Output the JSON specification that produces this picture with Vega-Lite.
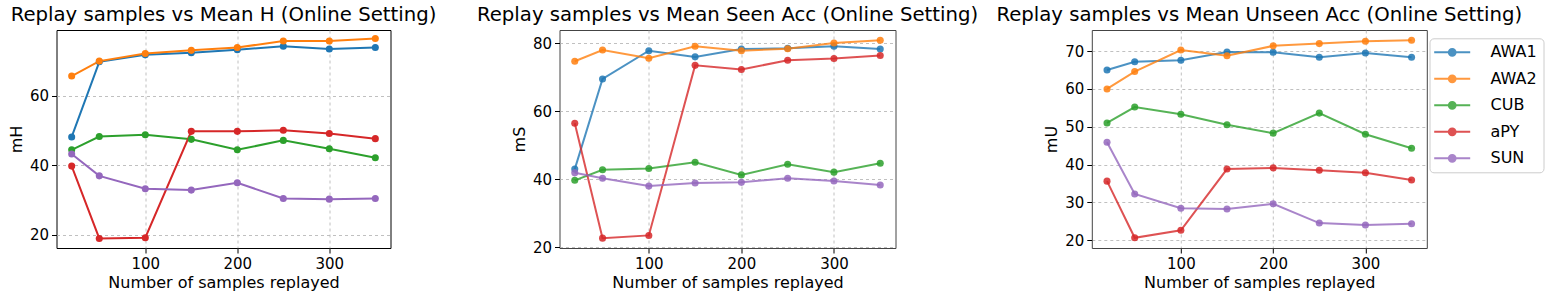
{
  "$schema": "https://vega.github.io/schema/vega-lite/v6.json",
  "padding": {"left": 7.5, "top": 4, "right": 5, "bottom": 5},
  "data": {"values": [
    {"n": 20, "dataset": "AWA1", "mH": 48.1, "mS": 43.0, "mU": 65.0},
    {"n": 20, "dataset": "AWA2", "mH": 65.6, "mS": 74.7, "mU": 60.0},
    {"n": 20, "dataset": "CUB", "mH": 44.4, "mS": 39.7, "mU": 51.0},
    {"n": 20, "dataset": "aPY", "mH": 39.7, "mS": 56.5, "mU": 35.6},
    {"n": 20, "dataset": "SUN", "mH": 43.2, "mS": 41.9, "mU": 45.9},
    {"n": 50, "dataset": "AWA1", "mH": 69.7, "mS": 69.5, "mU": 67.2},
    {"n": 50, "dataset": "AWA2", "mH": 69.9, "mS": 78.0, "mU": 64.6},
    {"n": 50, "dataset": "CUB", "mH": 48.2, "mS": 42.8, "mU": 55.2},
    {"n": 50, "dataset": "aPY", "mH": 18.9, "mS": 22.7, "mU": 20.6},
    {"n": 50, "dataset": "SUN", "mH": 36.9, "mS": 40.3, "mU": 32.2},
    {"n": 100, "dataset": "AWA1", "mH": 71.7, "mS": 77.8, "mU": 67.6},
    {"n": 100, "dataset": "AWA2", "mH": 72.1, "mS": 75.6, "mU": 70.3},
    {"n": 100, "dataset": "CUB", "mH": 48.7, "mS": 43.2, "mU": 53.3},
    {"n": 100, "dataset": "aPY", "mH": 19.1, "mS": 23.5, "mU": 22.6},
    {"n": 100, "dataset": "SUN", "mH": 33.2, "mS": 38.0, "mU": 28.4},
    {"n": 150, "dataset": "AWA1", "mH": 72.3, "mS": 76.0, "mU": 69.8},
    {"n": 150, "dataset": "AWA2", "mH": 73.0, "mS": 79.1, "mU": 68.8},
    {"n": 150, "dataset": "CUB", "mH": 47.4, "mS": 45.0, "mU": 50.5},
    {"n": 150, "dataset": "aPY", "mH": 49.7, "mS": 73.5, "mU": 38.8},
    {"n": 150, "dataset": "SUN", "mH": 32.8, "mS": 38.9, "mU": 28.2},
    {"n": 200, "dataset": "AWA1", "mH": 73.2, "mS": 78.3, "mU": 69.7},
    {"n": 200, "dataset": "AWA2", "mH": 73.8, "mS": 77.8, "mU": 71.4},
    {"n": 200, "dataset": "CUB", "mH": 44.4, "mS": 41.3, "mU": 48.3},
    {"n": 200, "dataset": "aPY", "mH": 49.7, "mS": 72.3, "mU": 39.1},
    {"n": 200, "dataset": "SUN", "mH": 34.9, "mS": 39.1, "mU": 29.6},
    {"n": 250, "dataset": "AWA1", "mH": 74.2, "mS": 78.5, "mU": 68.4},
    {"n": 250, "dataset": "AWA2", "mH": 75.7, "mS": 78.4, "mU": 72.0},
    {"n": 250, "dataset": "CUB", "mH": 47.1, "mS": 44.4, "mU": 53.6},
    {"n": 250, "dataset": "aPY", "mH": 50.0, "mS": 75.0, "mU": 38.5},
    {"n": 250, "dataset": "SUN", "mH": 30.4, "mS": 40.3, "mU": 24.5},
    {"n": 300, "dataset": "AWA1", "mH": 73.4, "mS": 79.1, "mU": 69.5},
    {"n": 300, "dataset": "AWA2", "mH": 75.7, "mS": 80.1, "mU": 72.6},
    {"n": 300, "dataset": "CUB", "mH": 44.7, "mS": 42.1, "mU": 48.0},
    {"n": 300, "dataset": "aPY", "mH": 49.1, "mS": 75.5, "mU": 37.8},
    {"n": 300, "dataset": "SUN", "mH": 30.2, "mS": 39.5, "mU": 24.0},
    {"n": 350, "dataset": "AWA1", "mH": 73.8, "mS": 78.3, "mU": 68.4},
    {"n": 350, "dataset": "AWA2", "mH": 76.4, "mS": 80.9, "mU": 72.9},
    {"n": 350, "dataset": "CUB", "mH": 42.1, "mS": 44.7, "mU": 44.3},
    {"n": 350, "dataset": "aPY", "mH": 47.6, "mS": 76.4, "mU": 35.9},
    {"n": 350, "dataset": "SUN", "mH": 30.4, "mS": 38.3, "mU": 24.3}
  ]},
  "config": {
    "font": "DejaVu Sans",
    "view": {"stroke": "#000", "strokeWidth": 1},
    "axis": {"domain": false, "grid": true, "gridColor": "#b0b0b0", "gridDash": [3, 3], "gridWidth": 0.8,
      "tickColor": "#000", "tickSize": 5, "tickWidth": 1, "labelColor": "#000", "labelFontSize": 15,
      "labelPadding": 3, "titleFontSize": 16, "titleFontWeight": "normal", "titleColor": "#000",
      "labelFont": "DejaVu Sans", "titleFont": "DejaVu Sans"},
    "axisX": {"titlePadding": 3},
    "axisY": {"titlePadding": 5},
    "title": {"fontSize": 19.7, "fontWeight": "normal", "color": "#000", "offset": 5, "font": "DejaVu Sans", "anchor": "middle", "frame": "group"}
  },
  "spacing": 169,
  "bounds": "flush",
  "resolve": {"legend": {"color": "independent"}},
  "hconcat": [
    {
      "width": 334, "height": 218,
      "title": "Replay samples vs Mean H (Online Setting)",
      "encoding": {
        "x": {"field": "n", "type": "quantitative", "scale": {"domain": [3.5, 366.5], "nice": false, "zero": false}, "axis": {"values": [100, 200, 300], "title": "Number of samples replayed"}},
        "y": {"field": "mH", "type": "quantitative", "scale": {"domain": [16.15, 78.85], "nice": false, "zero": false}, "axis": {"values": [20, 40, 60], "title": "mH"}},
        "color": {"field": "dataset", "type": "nominal", "scale": {"domain": ["AWA1", "AWA2", "CUB", "aPY", "SUN"], "range": ["#1f77b4", "#ff7f0e", "#2ca02c", "#d62728", "#9467bd"]}, "legend": null}
      },
      "layer": [
        {"mark": {"type": "line", "strokeWidth": 2}},
        {"mark": {"type": "point", "filled": true, "size": 50, "opacity": 1}}
      ]
    },
    {
      "spacing": 196.3,
      "bounds": "flush",
      "resolve": {"legend": {"color": "independent"}},
      "hconcat": [
        {
          "width": 336, "height": 218,
          "view": {"stroke": "#444"},
          "title": "Replay samples vs Mean Seen Acc (Online Setting)",
          "encoding": {
            "x": {"field": "n", "type": "quantitative", "scale": {"domain": [3.5, 366.5], "nice": false, "zero": false}, "axis": {"values": [100, 200, 300], "title": "Number of samples replayed"}},
            "y": {"field": "mS", "type": "quantitative", "scale": {"domain": [19.8, 83.9], "nice": false, "zero": false}, "axis": {"values": [20, 40, 60, 80], "title": "mS"}},
            "color": {"field": "dataset", "type": "nominal", "scale": {"domain": ["AWA1", "AWA2", "CUB", "aPY", "SUN"], "range": ["#1f77b4", "#ff7f0e", "#2ca02c", "#d62728", "#9467bd"]}, "legend": null}
          },
          "layer": [
            {"mark": {"type": "line", "strokeWidth": 2, "opacity": 0.8}},
            {"mark": {"type": "point", "filled": true, "size": 50, "opacity": 0.85}}
          ]
        },
        {
          "width": 335, "height": 218,
          "view": {"stroke": "#444"},
          "title": "Replay samples vs Mean Unseen Acc (Online Setting)",
          "encoding": {
            "x": {"field": "n", "type": "quantitative", "scale": {"domain": [3.5, 366.5], "nice": false, "zero": false}, "axis": {"values": [100, 200, 300], "title": "Number of samples replayed"}},
            "y": {"field": "mU", "type": "quantitative", "scale": {"domain": [17.9, 75.6], "nice": false, "zero": false}, "axis": {"values": [20, 30, 40, 50, 60, 70], "title": "mU"}},
            "color": {"field": "dataset", "type": "nominal", "scale": {"domain": ["AWA1", "AWA2", "CUB", "aPY", "SUN"], "range": ["#1f77b4", "#ff7f0e", "#2ca02c", "#d62728", "#9467bd"]},
              "legend": {"orient": "none", "legendX": 337.7, "legendY": 8.3, "title": null,
                "symbolType": "M-2.571,0H2.571M0.486,0A0.486,0.486,0,1,1,-0.486,0A0.486,0.486,0,1,1,0.486,0Z",
                "symbolSize": 196, "symbolStrokeWidth": 2, "symbolOffset": 8.7, "labelFontSize": 16, "labelOffset": 30.3,
                "labelColor": "#000", "labelFont": "DejaVu Sans", "padding": 6, "rowPadding": 10.5,
                "strokeColor": "#cccccc", "fillColor": "rgba(255,255,255,0.8)", "cornerRadius": 4}}
          },
          "layer": [
            {"mark": {"type": "line", "strokeWidth": 2, "opacity": 0.8}},
            {"mark": {"type": "point", "filled": true, "size": 50, "opacity": 0.85}}
          ]
        }
      ]
    }
  ]
}
